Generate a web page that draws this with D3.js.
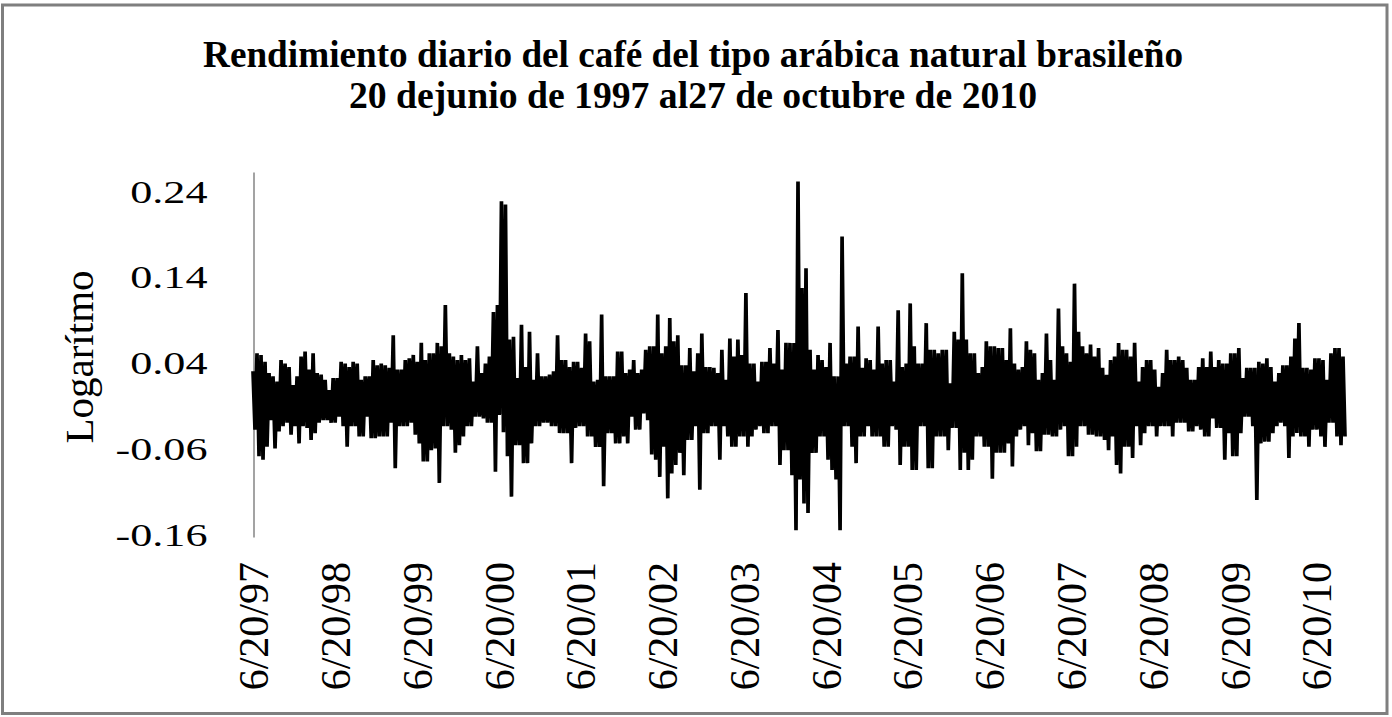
<!DOCTYPE html>
<html lang="es">
<head>
<meta charset="utf-8">
<title>Rendimiento diario del café</title>
<script src="https://cdn.jsdelivr.net/npm/d3@7"></script>
<style>
  html, body { margin: 0; padding: 0; background: #fff; }
  svg { display: block; }
  text { font-family: "Liberation Serif", "Times New Roman", serif; fill: #000; }
</style>
</head>
<body>
<script>
// Textos del gráfico
const titulo = [
  "Rendimiento diario del café del tipo arábica natural brasileño",
  "20 dejunio de 1997 al27 de octubre de 2010"
];
const etiquetaY = "Logarítmo";

// Período de la serie
const fechaInicio = new Date(1997, 5, 20);
const fechaFin = new Date(2010, 9, 27);

// Marcas de los ejes
const marcasY = [-0.16, -0.06, 0.04, 0.14, 0.24];
const aniosEje = [1997, 1998, 1999, 2000, 2001, 2002, 2003, 2004, 2005, 2006, 2007, 2008, 2009, 2010];

// Rendimiento logarítmico (en orden temporal)
const rendimiento = [
  0.031,-0.037, 0.052,-0.068, 0.050,-0.072, 0.042,-0.057, 0.029,-0.026, 0.025,-0.059, 0.019,-0.039, 0.044,-0.033,
  0.040,-0.029, 0.036,-0.043, 0.015,-0.033, 0.025,-0.053, 0.048,-0.033, 0.054,-0.035, 0.033,-0.049, 0.052,-0.041,
  0.029,-0.029, 0.027,-0.026, 0.021,-0.026, 0.009,-0.029, 0.023,-0.029, 0.023,-0.022, 0.042,-0.033, 0.040,-0.057,
  0.036,-0.033, 0.042,-0.033, 0.040,-0.045, 0.021,-0.045, 0.025,-0.022, 0.025,-0.047, 0.044,-0.047, 0.038,-0.045,
  0.040,-0.045, 0.038,-0.045, 0.035,-0.029, 0.073,-0.082, 0.033,-0.033, 0.033,-0.033, 0.044,-0.033, 0.046,-0.029,
  0.050,-0.043, 0.042,-0.053, 0.064,-0.074, 0.044,-0.074, 0.052,-0.061, 0.052,-0.059, 0.064,-0.099, 0.060,-0.033,
  0.108,-0.033, 0.052,-0.037, 0.048,-0.064, 0.044,-0.055, 0.050,-0.045, 0.044,-0.033, 0.046,-0.033, 0.019,-0.022,
  0.060,-0.022, 0.029,-0.024, 0.040,-0.029, 0.048,-0.029, 0.100,-0.086, 0.108,-0.020, 0.229,-0.040, 0.225,-0.068,
  0.068,-0.115, 0.071,-0.055, 0.023,-0.055, 0.085,-0.076, 0.036,-0.076, 0.077,-0.053, 0.021,-0.033, 0.052,-0.033,
  0.025,-0.029, 0.025,-0.029, 0.027,-0.033, 0.031,-0.033, 0.073,-0.041, 0.044,-0.041, 0.044,-0.041, 0.036,-0.076,
  0.042,-0.035, 0.042,-0.033, 0.035,-0.033, 0.075,-0.045, 0.066,-0.045, 0.019,-0.057, 0.021,-0.057, 0.097,-0.103,
  0.025,-0.041, 0.025,-0.041, 0.025,-0.053, 0.054,-0.053,
  0.054,-0.045, 0.029,-0.053, 0.033,-0.022, 0.044,-0.037, 0.029,-0.037, 0.033,-0.018, 0.056,-0.026, 0.060,-0.066,
  0.060,-0.072, 0.097,-0.092, 0.052,-0.057, 0.060,-0.117, 0.093,-0.088, 0.066,-0.078, 0.073,-0.064, 0.038,-0.090,
  0.038,-0.049, 0.058,-0.049, 0.031,-0.033, 0.052,-0.107, 0.075,-0.041, 0.036,-0.041, 0.036,-0.033, 0.035,-0.033,
  0.029,-0.072, 0.056,-0.033, 0.021,-0.045, 0.069,-0.057, 0.048,-0.057, 0.068,-0.045, 0.050,-0.045, 0.122,-0.057,
  0.040,-0.045, 0.040,-0.037, 0.019,-0.033, 0.042,-0.041, 0.042,-0.041, 0.058,-0.033, 0.040,-0.033, 0.079,-0.078,
  0.033,-0.061, 0.064,-0.061, 0.064,-0.090, 0.064,-0.154, 0.252,-0.095, 0.128,-0.123, 0.151,-0.134, 0.056,-0.064,
  0.033,-0.064, 0.050,-0.045, 0.044,-0.045, 0.036,-0.072, 0.064,-0.084, 0.025,-0.095, 0.025,-0.154, 0.188,-0.033,
  0.040,-0.033, 0.048,-0.057, 0.048,-0.076, 0.083,-0.045, 0.035,-0.045, 0.046,-0.033, 0.044,-0.045, 0.033,-0.045,
  0.083,-0.045, 0.040,-0.057, 0.044,-0.057, 0.044,-0.033, 0.019,-0.037, 0.102,-0.078, 0.036,-0.057, 0.040,-0.057,
  0.110,-0.084, 0.060,-0.084, 0.040,-0.033, 0.040,-0.033, 0.087,-0.082, 0.056,-0.082, 0.056,-0.045, 0.052,-0.045,
  0.056,-0.045, 0.056,-0.061, 0.017,-0.035, 0.077,-0.035, 0.068,-0.084, 0.145,-0.064, 0.068,-0.084, 0.052,-0.072,
  0.052,-0.045, 0.029,-0.045, 0.036,-0.057, 0.066,-0.057, 0.060,-0.094, 0.060,-0.064, 0.058,-0.064,
  0.058,-0.064, 0.044,-0.053, 0.081,-0.080, 0.040,-0.045, 0.033,-0.037, 0.036,-0.033, 0.066,-0.055, 0.056,-0.041,
  0.052,-0.062, 0.021,-0.062, 0.029,-0.043, 0.075,-0.043, 0.044,-0.045, 0.021,-0.045, 0.104,-0.037, 0.060,-0.033,
  0.052,-0.068, 0.042,-0.068, 0.133,-0.057, 0.077,-0.033, 0.060,-0.033, 0.052,-0.043, 0.062,-0.043, 0.048,-0.045,
  0.058,-0.045, 0.035,-0.049, 0.027,-0.061, 0.044,-0.045, 0.048,-0.078, 0.064,-0.088, 0.056,-0.057, 0.056,-0.057,
  0.048,-0.070, 0.064,-0.033, 0.019,-0.055, 0.036,-0.041, 0.044,-0.033, 0.044,-0.033, 0.033,-0.045, 0.013,-0.033,
  0.029,-0.033, 0.056,-0.033, 0.044,-0.045, 0.044,-0.029, 0.048,-0.029, 0.044,-0.029, 0.035,-0.039, 0.021,-0.039,
  0.021,-0.033, 0.036,-0.037, 0.046,-0.045, 0.036,-0.045, 0.054,-0.024, 0.036,-0.035, 0.044,-0.035, 0.040,-0.072,
  0.040,-0.041, 0.052,-0.068, 0.052,-0.068, 0.058,-0.041, 0.023,-0.022, 0.035,-0.022, 0.035,-0.033, 0.035,-0.119,
  0.042,-0.053, 0.040,-0.051, 0.046,-0.051, 0.036,-0.041, 0.019,-0.033, 0.029,-0.029, 0.038,-0.033, 0.038,-0.070,
  0.048,-0.045, 0.069,-0.041, 0.087,-0.045, 0.035,-0.045, 0.035,-0.057, 0.033,-0.037, 0.046,-0.037, 0.046,-0.045,
  0.044,-0.057, 0.021,-0.029, 0.052,-0.029, 0.058,-0.045, 0.058,-0.055, 0.048,-0.045
];

// Dimensiones
const width = 1392, height = 717;
const plot = { left: 253, right: 1345, top: 172, bottom: 537 };

const svg = d3.select("body").append("svg")
    .attr("width", width)
    .attr("height", height);

// Marco exterior
svg.append("rect")
    .attr("x", 2.5).attr("y", 5)
    .attr("width", 1384.5).attr("height", 708.5)
    .attr("fill", "none")
    .attr("stroke", "#7f7f7f")
    .attr("stroke-width", 3);

// Escalas
const x = d3.scaleTime()
    .domain([fechaInicio, fechaFin])
    .range([plot.left, plot.right]);

const y = d3.scaleLinear()
    .domain([-0.162, 0.263])
    .range([plot.bottom, plot.top]);

// Cada observación se reparte a lo largo del período
const fechaDe = d3.scaleLinear()
    .domain([0, rendimiento.length - 1])
    .range([fechaInicio, fechaFin]);

// Título
titulo.forEach((t, i) => {
  svg.append("text")
      .attr("x", 693)
      .attr("y", 67 + i * 41)
      .attr("text-anchor", "middle")
      .attr("font-weight", "bold")
      .attr("font-size", 37)
      .attr("textLength", i === 0 ? 980 : 688)
      .attr("lengthAdjust", "spacingAndGlyphs")
      .text(t);
});

// Eje Y
const ejeY = svg.append("g")
    .attr("transform", "translate(" + (plot.left + 0.5) + ",0)")
    .call(d3.axisLeft(y)
      .tickValues(marcasY)
      .tickFormat(d => d.toFixed(2))
      .tickSize(0)
      .tickSizeOuter(0)
      .tickPadding(46))
    .attr("font-size", 32);

ejeY.select(".domain")
    .attr("stroke", "#666")
    .attr("stroke-width", 1.2);

ejeY.selectAll(".tick text").each(function() {
  const w = this.getComputedTextLength();
  d3.select(this)
      .attr("textLength", w * 1.38)
      .attr("lengthAdjust", "spacingAndGlyphs");
});

// Título del eje Y
svg.append("text")
    .attr("transform", "translate(93,357) rotate(-90)")
    .attr("text-anchor", "middle")
    .attr("font-size", 41)
    .text(etiquetaY);

// Eje X (etiquetas en la parte baja)
const ejeX = svg.append("g")
    .attr("transform", "translate(0," + plot.bottom + ")")
    .call(d3.axisBottom(x)
      .tickValues(aniosEje.map(a => new Date(a, 5, 20)))
      .tickFormat(d3.timeFormat("%-m/%d/%y"))
      .tickSize(0))
    .attr("font-size", 42);

ejeX.select(".domain").remove();

ejeX.selectAll(".tick text")
    .attr("transform", "rotate(-90)")
    .attr("x", -25)
    .attr("y", 0)
    .attr("dy", "0.35em")
    .attr("text-anchor", "end");

// Serie
const linea = d3.line()
    .x((d, i) => x(fechaDe(i)))
    .y(d => y(d));

svg.append("path")
    .datum(rendimiento)
    .attr("fill", "none")
    .attr("stroke", "#000")
    .attr("stroke-width", 3.7)
    .attr("d", linea);
</script>
</body>
</html>
